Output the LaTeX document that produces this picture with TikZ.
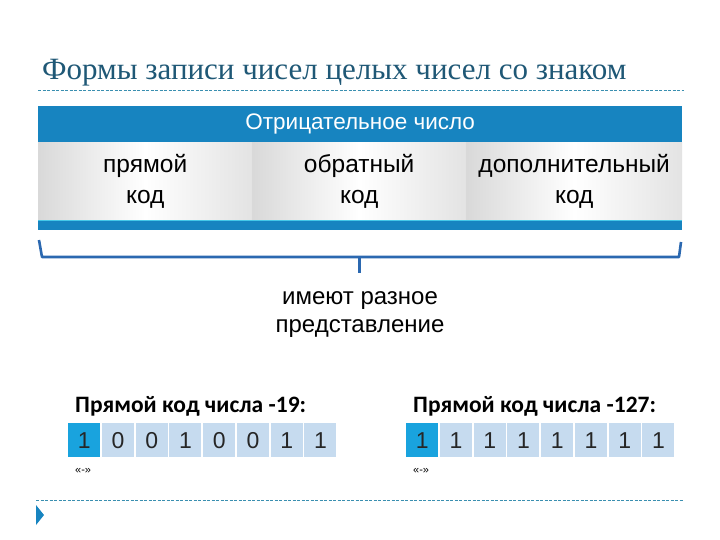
\documentclass[tikz,border=0pt]{standalone}
\usepackage{fontspec}
\setmainfont{Liberation Sans}
\newfontfamily\titlefont{Liberation Serif}
\newfontfamily\boldfont{Carlito}
\usetikzlibrary{positioning}
\definecolor{hdrblue}{HTML}{1784C0}
\definecolor{titlec}{HTML}{1F5876}
\definecolor{dashc}{HTML}{3A8FB0}
\definecolor{bracec}{HTML}{2B68B0}
\definecolor{bitmain}{HTML}{19A3DE}
\definecolor{bitlight}{HTML}{C6DBEF}
\definecolor{cyanline}{HTML}{45C8E8}
\tikzset{
  panel/.style={minimum width=214, minimum height=78, inner sep=0, align=center,
    font=\fontsize{24.5}{31}\selectfont, left color=gray!30, right color=gray!22, middle color=white},
  bitbox/.style={minimum width=32, minimum height=34, inner sep=0, fill=bitlight,
    font=\fontsize{23}{26}\selectfont, text=black!85},
  bitfirst/.style={bitbox, fill=bitmain},
  boldhead/.style={anchor=base west, font=\boldfont\bfseries\fontsize{23.5}{26}\selectfont, inner sep=0},
  signlbl/.style={anchor=base west, font=\fontsize{11}{12}\selectfont, inner sep=0},
  dashline/.style={dashc, dashed, dash pattern=on 3pt off 1.5pt, line width=0.6pt},
}
\begin{document}
\begin{tikzpicture}[x=1pt,y=-1pt]
\useasboundingbox[fill=white] (0,0) rectangle (720,540);
% title
\node[anchor=base west, inner sep=0, text=titlec, font=\titlefont\fontsize{31}{34}\selectfont] (title) at (42,80) {Формы записи чисел целых чисел со знаком};
\draw[dashline] (38,90) -- (684,90);
% header
\node[fill=hdrblue, minimum width=644, minimum height=36, inner sep=0, anchor=north west, text=white, font=\fontsize{22.5}{26}\selectfont] (hdr) at (38,106) {Отрицательное число};
% panels
\node[panel, anchor=north west] (p1) at (38,142) {прямой\\код};
\node[panel, anchor=north west] (p2) at (252,142) {обратный\\код};
\node[panel, anchor=north west, minimum width=216] (p3) at (466,142) {дополнительный\\код};
% bottom bar
\fill[hdrblue] (38,220) rectangle (682,230);
\draw[cyanline, line width=1.2pt] (38,220.6) -- (682,220.6);
% brace
\coordinate (bl) at (39,240);
\coordinate (blb) at (42,257);
\coordinate (brb) at (679,257);
\coordinate (br) at (681,242);
\coordinate (bm) at (359,257);
\coordinate (bt) at (359,273);
\draw[bracec, line width=2.6pt, line join=round] (bl) -- (blb) -- (brb) -- (br);
\draw[bracec, line width=3pt] (bm) -- (bt);
\node[align=center, font=\fontsize{24}{28}\selectfont, anchor=north, inner sep=0] (note) at (360,291) {имеют разное\\представление};
% left example
\node[boldhead] (h1) at (75,412) {Прямой код числа -19:};
\foreach \b [count=\i from 0] in {1,0,0,1,0,0,1,1} {
  \ifnum\i=0
    \node[bitfirst, anchor=north west] (L\i) at ({68+33.75*\i},423) {\b};
  \else
    \node[bitbox, anchor=north west] (L\i) at ({68+33.75*\i},423) {\b};
  \fi
}
\node[signlbl] (s1) at (75,473) {«-»};
% right example
\node[boldhead] (h2) at (413,412) {Прямой код числа -127:};
\foreach \b [count=\i from 0] in {1,1,1,1,1,1,1,1} {
  \ifnum\i=0
    \node[bitfirst, anchor=north west] (R\i) at ({406+33.75*\i},423) {\b};
  \else
    \node[bitbox, anchor=north west] (R\i) at ({406+33.75*\i},423) {\b};
  \fi
}
\node[signlbl] (s2) at (413,473) {«-»};
% bottom
\draw[dashline] (36,500) -- (684,500);
\fill[hdrblue] (36,505) -- (44,515) -- (36,525) -- cycle;
\end{tikzpicture}
\end{document}
